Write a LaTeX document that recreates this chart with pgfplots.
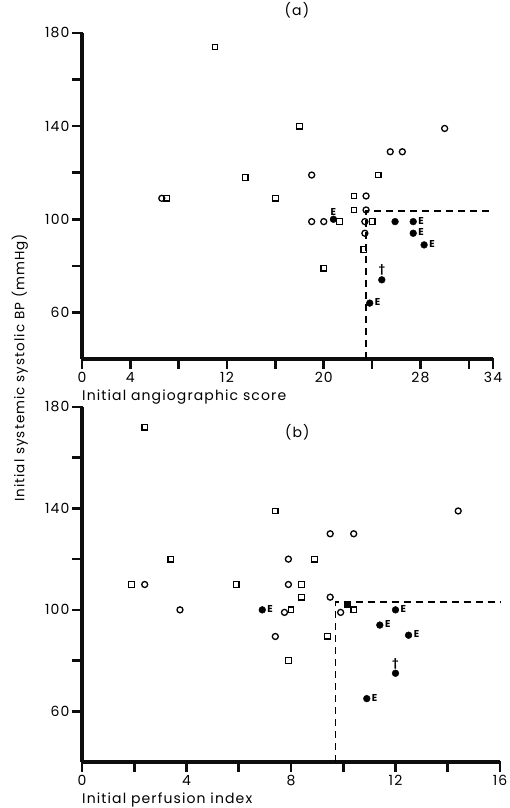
\documentclass[border=0pt]{standalone}
\usepackage{fontspec}
\setmainfont{Poppins}[LetterSpace=8]
\usepackage{pgfplots}
\pgfplotsset{compat=1.18}

\pgfplotsset{
  bpaxis/.style={
    scale only axis,
    axis lines=left,
    axis line style={-, line width=3.4pt, draw=black!95},
    tick align=outside,
    major tick length=9pt,
    tick style={line width=2.6pt, draw=black!95, line cap=rect},
    ymin=40, ymax=180,
    ytick={60,80,...,180},
    yticklabels={60,,100,,140,,180},
    tick label style={font=\fontsize{14}{14}\selectfont},
    xticklabel style={yshift=-1pt},
    clip=false,
    xlabel style={at={(rel axis cs:0,0)}, anchor=north west, inner sep=0pt,
      yshift=-31pt, font=\fontsize{14}{14}\selectfont},
  },
  opencirc/.style={only marks, mark=o, mark size=3pt, mark options={line width=1.3pt}, black},
  opensq/.style={only marks, mark=square, mark size=2.8pt, mark options={line width=1.3pt}, black},
  filled/.style={only marks, mark=*, mark size=3.4pt, black},
  Eright/.style={filled, nodes near coords, point meta=explicit symbolic,
    every node near coord/.style={anchor=west, font=\fontsize{10}{10}\selectfont\bfseries, inner sep=0pt, xshift=5pt, yshift=1pt}},
  Eabove/.style={filled, nodes near coords, point meta=explicit symbolic,
    every node near coord/.style={anchor=south, font=\fontsize{10}{10}\selectfont\bfseries, inner sep=0pt, yshift=4pt}},
  dashline/.style={line width=1.8pt, dash pattern=on 7pt off 5pt, black},
}

\begin{document}
\begin{tikzpicture}
\useasboundingbox (0,0) rectangle (509pt,808pt);

% (a) angiographic score
\begin{axis}[bpaxis,
  at={(82pt,449pt)}, anchor=south west,
  width=411pt, height=326pt,
  xmin=0, xmax=34,
  xtick={0,4,8,12,16,20,24,28,32,34},
  xticklabels={0,4,,12,,20,,28,,34},
  xlabel={Initial angiographic score},
  title={(a)},
  title style={at={(0.523,1)}, anchor=south, inner sep=0pt, yshift=9pt, font=\fontsize{14}{14}\selectfont},
]
\addplot[dashline] coordinates {(23.5,40) (23.5,103.5) (34,103.5)};
\addplot[opencirc] coordinates {
  (6.6,109) (19,119) (25.5,129) (26.5,129) (30,139) (23.5,110) (23.5,104)
  (19,99) (20,99) (23.4,99) (23.4,94)
};
\addplot[opensq] coordinates {
  (11,174) (18,140) (13.5,118) (24.5,119) (7.0,109) (16,109) (22.5,110)
  (22.5,104) (21.3,99) (24,99) (23.3,87) (20,79)
};
\addplot[filled] coordinates {(25.9,99)};
\addplot[Eright] coordinates {(27.4,99) [E] (27.4,94) [E] (28.3,89) [E] (23.8,64) [E]};
\addplot[Eabove] coordinates {(20.8,100) [E]};
\addplot[Eabove] coordinates {(24.8,74) [\dag]};
\end{axis}

% (b) perfusion index
\begin{axis}[bpaxis,
  at={(82pt,46pt)}, anchor=south west,
  width=418pt, height=355pt,
  xmin=0, xmax=16,
  xtick={0,2,...,16},
  xticklabels={0,,4,,8,,12,,16},
  xlabel={Initial perfusion index},
]
\addplot[dashline] coordinates {(9.7,40) (9.7,103) (16,103)};
\addplot[opencirc] coordinates {
  (2.4,110) (9.5,130) (10.4,130) (14.4,139) (7.9,120) (7.9,110) (9.5,105)
  (3.75,100) (7.75,99) (7.4,89.5) (9.9,99)
};
\addplot[opensq] coordinates {
  (2.4,172) (7.4,139) (3.4,120) (8.9,120) (1.9,110) (5.9,110) (8.4,110)
  (8.4,105) (8.0,100) (9.4,89.6) (7.9,80) (10.4,100)
};
\addplot[only marks, mark=square*, mark size=2.8pt, black] coordinates {(10.15,102)};
\addplot[Eright] coordinates {(6.9,100) [E] (12,100) [E] (11.4,94) [E] (12.5,90) [E] (10.9,65) [E]};
\addplot[Eabove] coordinates {(12,75) [\dag]};
\node[font=\fontsize{14}{14}\selectfont] at (axis cs:8.24,170) {(b)};
\end{axis}

\node[rotate=90, font=\fontsize{13.5}{13.5}\selectfont] at (20pt,440pt) {Initial systemic systolic BP (mmHg)};
\end{tikzpicture}
\end{document}
